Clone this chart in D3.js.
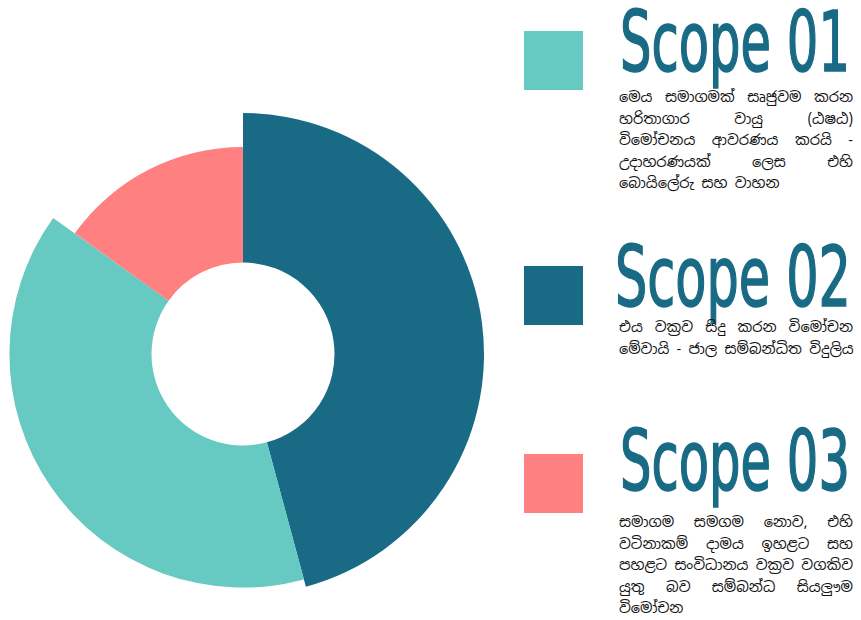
<!DOCTYPE html>
<html>
<head>
<meta charset="utf-8">
<script src="https://cdn.jsdelivr.net/npm/d3@7/dist/d3.min.js"></script>
<style>
  html, body { margin: 0; padding: 0; background: #ffffff; }
  #chart { position: relative; width: 861px; height: 620px; overflow: hidden; }
  svg { position: absolute; left: 0; top: 0; }
  .desc {
    position: absolute;
    font-family: "Noto Sans Sinhala", "Iskoola Pota", "Noto Sans", "DejaVu Sans", sans-serif;
    font-size: 14.6px;
    line-height: 21.5px;
    color: #111111;
  }
  .desc div { white-space: nowrap; text-align: justify; text-align-last: justify; }
  .desc div.last { text-align-last: left; }
</style>
</head>
<body>
<div id="chart"></div>
<script>
// Scope shares of the emissions footprint
const scopes = ["Scope 01", "Scope 02", "Scope 03"];
const shares = [39.1, 45.8, 15.1];
const colors = ["#66c9c2", "#196b85", "#ff8080"];
// Drawing order around the ring, clockwise from 12 o'clock
const ringOrder = [1, 0, 2];
// Description of each scope, one entry per printed line
const descriptions = [
  ["මෙය සමාගමක් සෘජුවම කරන", "හරිතාගාර වායු (ඨෂඨ)", "විමෝචනය ආවරණය කරයි -", "උදාහරණයක් ලෙස එහි", "බොයිලේරු සහ වාහන"],
  ["එය වක්‍රව සිදු කරන විමෝචන", "මේවායි - ජාල සම්බන්ධිත විදුලිය"],
  ["සමාගම සමගම නොව, එහි", "වටිනාකම් දාමය ඉහළට සහ", "පහළට සංවිධානය වක්‍රව වගකිව", "යුතු බව සම්බන්ධ සියලු\u0DDFම", "විමෝචන"]
];

const W = 861, H = 620;
const root = d3.select("#chart");
const svg = root.append("svg").attr("width", W).attr("height", H);

// ---- ring ----
const cx = 243, cy = 354, innerR = 91.5;
const radius = d3.scaleLinear().domain([0, d3.max(shares)]).range([190.3, 241]);

const pie = d3.pie().sort(null).value(i => shares[i]);
const arcs = pie(ringOrder);
const arc = d3.arc()
  .innerRadius(innerR)
  .outerRadius(d => radius(shares[d.data]));

svg.append("g")
  .attr("transform", `translate(${cx},${cy})`)
  .selectAll("path")
  .data(arcs)
  .join("path")
  .attr("d", arc)
  .attr("fill", d => colors[d.data]);

// ---- legend ----
const swatchX = 524, swatch = 59;
const swatchY = [31, 266, 454];
const titleX = [620, 615, 620];
const titleBase = [71, 306, 490];
const titleW = [230, 236, 230];
const descTop = [86, 316, 511];

const leg = svg.append("g");
scopes.forEach((s, i) => {
  leg.append("rect")
    .attr("x", swatchX).attr("y", swatchY[i])
    .attr("width", swatch).attr("height", swatch)
    .attr("fill", colors[i]);
  const t = leg.append("text")
    .attr("x", 0).attr("y", 0)
    .style("font-family", "'DejaVu Sans Condensed', 'DejaVu Sans', sans-serif")
    .style("font-size", "83px")
    .style("font-weight", "normal")
    .attr("fill", "#196b85")
    .attr("stroke", "#196b85")
    .attr("stroke-width", 1.6)
    .text(s);
  // squeeze the heading horizontally to its column width
  const natural = t.node().getComputedTextLength();
  t.attr("transform", `translate(${titleX[i]},${titleBase[i]}) scale(${titleW[i] / natural},1)`);
});

root.selectAll("div.desc")
  .data(descriptions)
  .join("div")
  .attr("class", "desc")
  .style("left", "619px")
  .style("width", "234px")
  .style("top", (d, i) => descTop[i] + "px")
  .selectAll("div")
  .data(d => d.map((line, k) => ({ line, last: k === d.length - 1 })))
  .join("div")
  .classed("last", d => d.last)
  .text(d => d.line);
</script>
</body>
</html>
